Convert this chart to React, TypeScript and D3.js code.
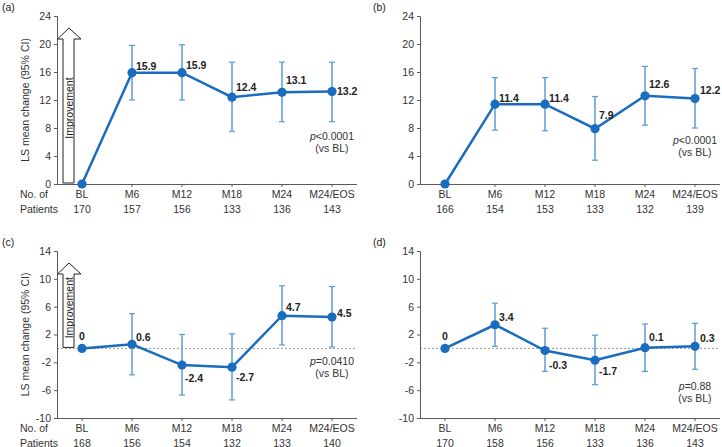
import { useEffect, useRef } from "react"
import * as d3 from "d3"

const categories = ["BL", "M6", "M12", "M18", "M24", "M24/EOS"]

const patientsA = [170, 157, 156, 133, 136, 143]
const patientsB = [166, 154, 153, 133, 132, 139]
const patientsC = [168, 156, 154, 132, 133, 140]
const patientsD = [170, 158, 156, 133, 136, 143]

const meanA = [0, 15.9, 15.9, 12.4, 13.1, 13.2]
const lowA = [null, 12.0, 12.0, 7.5, 8.9, 8.9]
const highA = [null, 19.8, 19.9, 17.4, 17.4, 17.4]

const meanB = [0, 11.4, 11.4, 7.9, 12.6, 12.2]
const lowB = [null, 7.7, 7.6, 3.4, 8.4, 8.0]
const highB = [null, 15.2, 15.2, 12.5, 16.8, 16.5]

const meanC = [0, 0.6, -2.4, -2.7, 4.7, 4.5]
const lowC = [null, -3.8, -6.7, -7.4, 0.5, 0.2]
const highC = [null, 5.0, 2.0, 2.1, 9.0, 8.9]

const meanD = [0, 3.4, -0.3, -1.7, 0.1, 0.3]
const lowD = [null, 0.3, -3.3, -5.2, -3.3, -3.0]
const highD = [null, 6.5, 2.9, 1.9, 3.5, 3.6]

const ticksTop = [0, 4, 8, 12, 16, 20, 24]
const ticksBottom = [-10, -6, -2, 2, 6, 10, 14]

const pTextA = ["<0.0001", "(vs BL)"]
const pTextB = ["<0.0001", "(vs BL)"]
const pTextC = ["=0.0410", "(vs BL)"]
const pTextD = ["=0.88", "(vs BL)"]

// label placement per point: [dx, dy of text centre, anchor]
const placeA = [null, [4, -6], [4, -7], [4, -10], [4, -12], [5, 0]]
const placeB = [null, [4, -6], [4, -6], [4, -13], [4, -11], [5, -8]]
const placeC = [[0, -12, "middle"], [4, -7], [3, 13], [4, 10], [4, -8], [5, -4]]
const placeD = [[0, -12, "middle"], [4, -7], [4, 15], [4, 11], [4, -10], [5, -8]]

const FONT = "'Liberation Sans', Arial, sans-serif"
const LINE = "#1a6cbf"
const ERR = "#5b9bd5"
const AXIS = "#5a5a5a"

const panels = [
  { id: "(a)", x0: 57, top: 16, bottom: 184, domain: [0, 24], ticks: ticksTop, mean: meanA, low: lowA, high: highA, n: patientsA, place: placeA, p: pTextA, pY: 136, showLeft: true, zeroLine: false },
  { id: "(b)", x0: 420, top: 16, bottom: 184, domain: [0, 24], ticks: ticksTop, mean: meanB, low: lowB, high: highB, n: patientsB, place: placeB, p: pTextB, pY: 140, showLeft: false, zeroLine: false },
  { id: "(c)", x0: 57, top: 251, bottom: 418, domain: [-10, 14], ticks: ticksBottom, mean: meanC, low: lowC, high: highC, n: patientsC, place: placeC, p: pTextC, pY: 361, showLeft: true, zeroLine: true },
  { id: "(d)", x0: 420, top: 251, bottom: 418, domain: [-10, 14], ticks: ticksBottom, mean: meanD, low: lowD, high: highD, n: patientsD, place: placeD, p: pTextD, pY: 386, showLeft: false, zeroLine: true },
]

const App = () => {
  const svgRef = useRef(null)

  useEffect(() => {
    const svg = d3.select(svgRef.current)
    svg.selectAll("*").remove()
    svg.style("font-family", FONT)

    panels.forEach((p) => {
      const g = svg.append("g")
      const width = 300

      const x = d3.scaleBand().domain(categories).range([p.x0, p.x0 + width])
      const cx = (c) => x(c) + x.bandwidth() / 2
      const y = d3.scaleLinear().domain(p.domain).range([p.bottom, p.top])

      // panel letter
      g.append("text")
        .attr("x", p.x0 === 57 ? 2 : 373)
        .attr("y", p.top - 5)
        .style("font-size", "10.5px")
        .style("fill", "#222")
        .text(p.id)

      // zero reference line
      if (p.zeroLine) {
        g.append("line")
          .attr("x1", p.x0)
          .attr("x2", p.x0 + width)
          .attr("y1", y(0))
          .attr("y2", y(0))
          .attr("stroke", "#9a9a9a")
          .attr("stroke-width", 1)
          .attr("stroke-dasharray", "2,2")
      }

      // y axis
      const yAxis = g
        .append("g")
        .attr("transform", `translate(${p.x0},0)`)
        .call(d3.axisLeft(y).tickValues(p.ticks).tickSize(3).tickPadding(3).tickFormat((d) => String(d)))
      yAxis.select(".domain").attr("stroke", AXIS)
      yAxis.selectAll(".tick line").attr("stroke", AXIS)
      yAxis.selectAll("text").style("font-size", "10.5px").style("fill", "#333").style("font-family", FONT)

      // x axis
      const xAxis = g
        .append("g")
        .attr("transform", `translate(0,${p.bottom})`)
        .call(d3.axisBottom(x).tickSize(3).tickFormat(() => ""))
      xAxis.select(".domain").attr("stroke", AXIS).attr("d", `M${p.x0},0.5H${p.x0 + width}`)
      xAxis.selectAll(".tick line").attr("stroke", AXIS)

      categories.forEach((c, i) => {
        g.append("text")
          .attr("x", cx(c))
          .attr("y", p.bottom + 14)
          .attr("text-anchor", "middle")
          .style("font-size", "10.5px")
          .style("fill", "#333")
          .text(c)
        g.append("text")
          .attr("x", cx(c))
          .attr("y", p.bottom + 28.5)
          .attr("text-anchor", "middle")
          .style("font-size", "10.5px")
          .style("fill", "#333")
          .text(p.n[i])
      })

      if (p.showLeft) {
        g.append("text").attr("x", 20).attr("y", p.bottom + 14).style("font-size", "10.5px").style("fill", "#333").text("No. of")
        g.append("text").attr("x", 20).attr("y", p.bottom + 28.5).style("font-size", "10.5px").style("fill", "#333").text("Patients")

        g.append("text")
          .attr("transform", `translate(25,${(p.top + p.bottom) / 2}) rotate(-90)`)
          .attr("text-anchor", "middle")
          .attr("dy", "0.35em")
          .style("font-size", "10.5px")
          .style("fill", "#333")
          .text("LS mean change (95% CI)")

        // improvement arrow
        const tip = p.top + 12
        const base = p.top + 23
        const foot = y(0) - 1
        g.append("path")
          .attr("d", `M69,${tip} L81,${base} L74,${base} L74,${foot} L63,${foot} L63,${base} L57.5,${base} Z`)
          .attr("fill", "#fff")
          .attr("stroke", "#222")
          .attr("stroke-width", 1)
        g.append("text")
          .attr("transform", `translate(69,${(base + foot) / 2 - 3}) rotate(-90)`)
          .attr("text-anchor", "middle")
          .attr("dy", "0.35em")
          .style("font-size", "10.5px")
          .style("fill", "#222")
          .text("Improvement")
      }

      // error bars
      const errData = categories.map((c, i) => ({ c, lo: p.low[i], hi: p.high[i] })).filter((d) => d.lo !== null)
      errData.forEach((d) => {
        const ex = cx(d.c)
        g.append("line").attr("x1", ex).attr("x2", ex).attr("y1", y(d.hi)).attr("y2", y(d.lo)).attr("stroke", ERR).attr("stroke-width", 1.5)
        ;[d.hi, d.lo].forEach((v) => {
          g.append("line").attr("x1", ex - 3).attr("x2", ex + 3).attr("y1", y(v)).attr("y2", y(v)).attr("stroke", ERR).attr("stroke-width", 1.2)
        })
      })

      // line
      const pts = categories.map((c, i) => ({ c, v: p.mean[i], i }))
      const line = d3
        .line()
        .x((d) => cx(d.c))
        .y((d) => y(d.v))
      g.append("path").datum(pts).attr("d", line).attr("fill", "none").attr("stroke", LINE).attr("stroke-width", 2.5)

      g.selectAll(".pt")
        .data(pts)
        .enter()
        .append("circle")
        .attr("cx", (d) => cx(d.c))
        .attr("cy", (d) => y(d.v))
        .attr("r", 4.6)
        .attr("fill", LINE)

      // value labels
      pts.forEach((d) => {
        const pl = p.place[d.i]
        if (!pl) return
        g.append("text")
          .attr("x", cx(d.c) + pl[0])
          .attr("y", y(d.v) + pl[1])
          .attr("dy", "0.35em")
          .attr("text-anchor", pl[2] || "start")
          .style("font-size", "10.5px")
          .style("font-weight", "bold")
          .style("fill", "#222")
          .text(d.v)
      })

      // p value
      const px = cx("M24/EOS")
      const pt = g
        .append("text")
        .attr("x", px)
        .attr("y", p.pY)
        .attr("dy", "0.35em")
        .attr("text-anchor", "middle")
        .style("font-size", "10.5px")
        .style("fill", "#333")
      pt.append("tspan").style("font-style", "italic").text("p")
      pt.append("tspan").text(p.p[0])
      g.append("text")
        .attr("x", px)
        .attr("y", p.pY + 12)
        .attr("dy", "0.35em")
        .attr("text-anchor", "middle")
        .style("font-size", "10.5px")
        .style("fill", "#333")
        .text(p.p[1])
    })
  }, [])

  return (
    <svg
      ref={svgRef}
      width={722}
      height={447}
      style={{ position: "absolute", left: 0, top: 0, background: "#fff" }}
    ></svg>
  )
}

export default App
